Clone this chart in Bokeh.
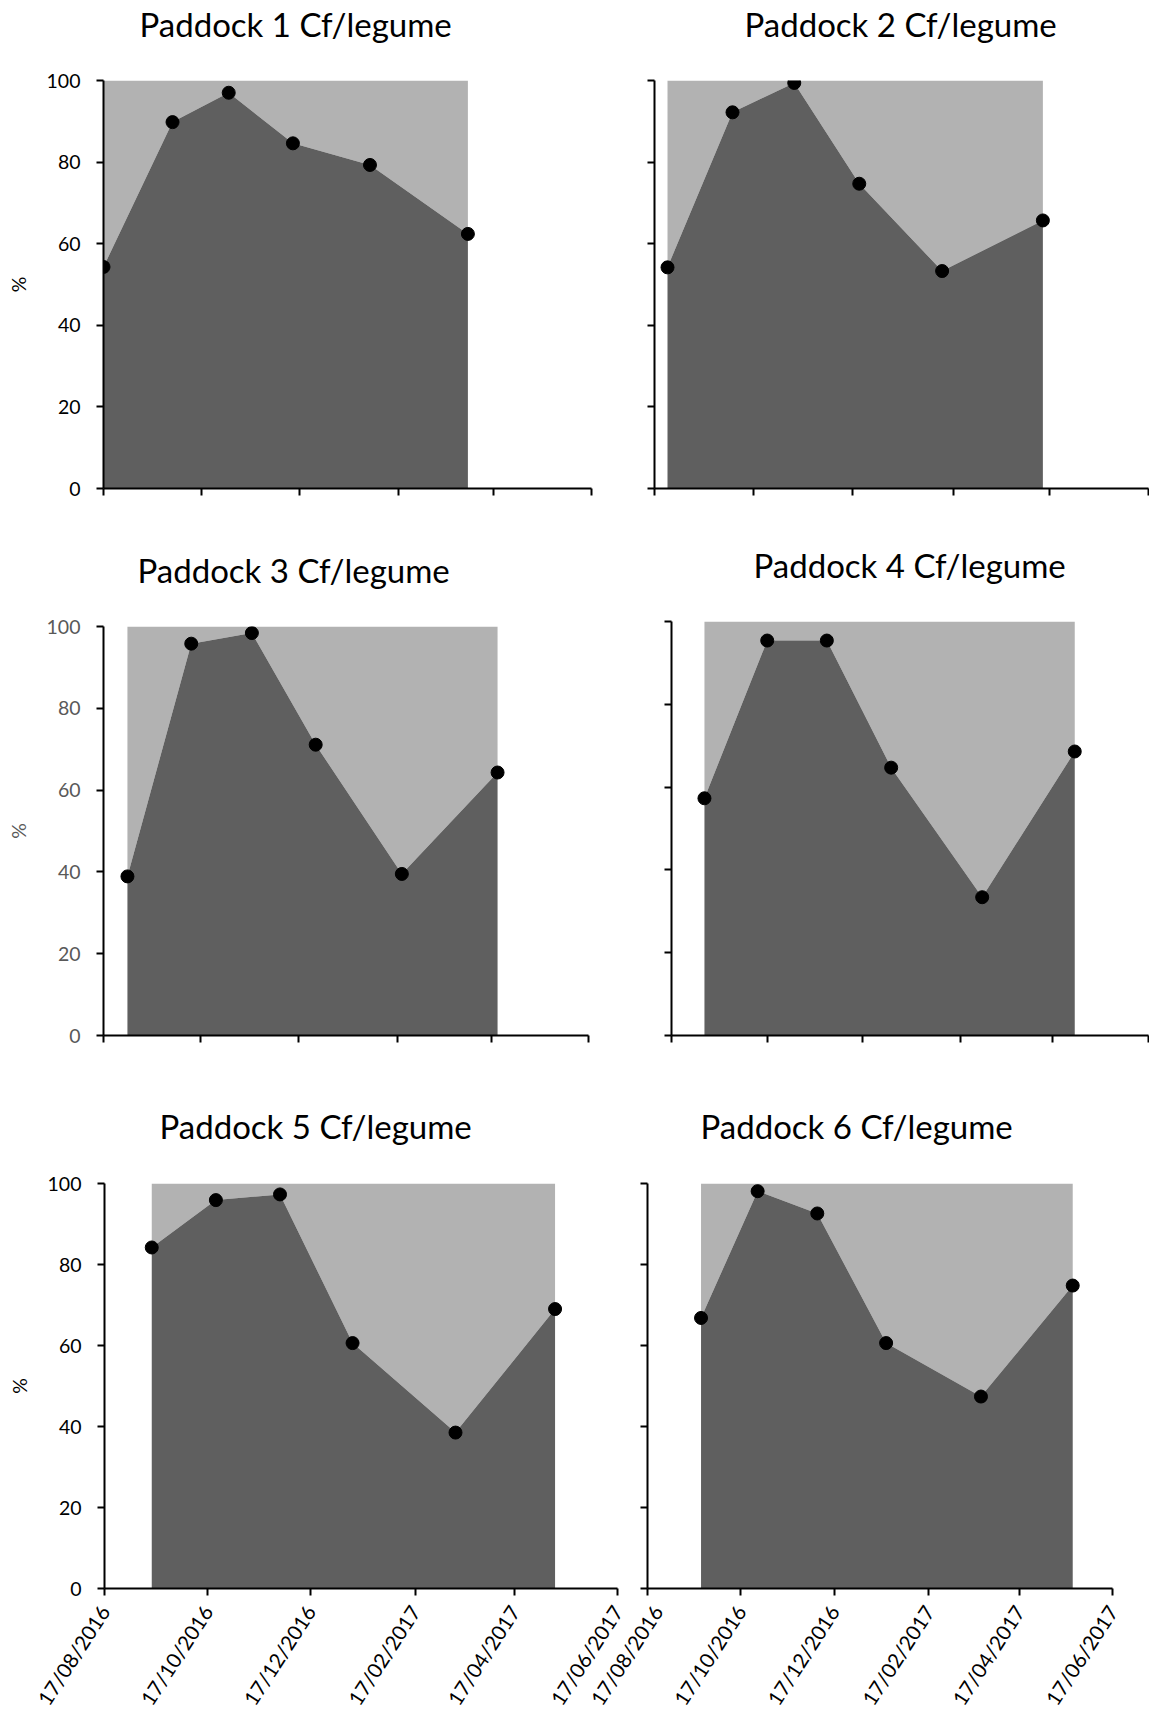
import math
import pandas as pd
from bokeh.plotting import figure
from bokeh.layouts import row, column
from bokeh.models import (Range1d, FixedTicker, DatetimeTickFormatter,
                          CustomJSTickFormatter, Title)
from bokeh.embed import file_html
from bokeh.resources import INLINE

FONT = "Lato"
TICK_SIZE = "19.5px"
XTICK_SIZE = "20.5px"
TITLE_SIZE = "33px"
LIGHT = "#B2B2B2"
DARK = "#5F5F5F"
TOP_ROOM = 150  # border reserved above each frame for its title

# shared axes: date ticks every two months, percentage ticks
x_tick_labels = ["17/08/2016", "17/10/2016", "17/12/2016",
                 "17/02/2017", "17/04/2017", "17/06/2017"]
y_ticks = [0, 20, 40, 60, 80, 100]
y_axis_title = "%"

titles = ["Paddock 1 Cf/legume", "Paddock 2 Cf/legume", "Paddock 3 Cf/legume",
          "Paddock 4 Cf/legume", "Paddock 5 Cf/legume", "Paddock 6 Cf/legume"]

# sampling dates and legume share (%) per paddock
p1_dates = ["17/08/2016", "29/09/2016", "03/11/2016", "13/12/2016", "30/01/2017", "01/04/2017"]
p1_values = [54.3, 89.8, 97.0, 84.6, 79.3, 62.4]
p2_dates = ["25/08/2016", "04/10/2016", "11/11/2016", "21/12/2016", "10/02/2017", "13/04/2017"]
p2_values = [54.2, 92.2, 99.4, 74.7, 53.3, 65.7]
p3_dates = ["01/09/2016", "11/10/2016", "18/11/2016", "28/12/2016", "20/02/2017", "21/04/2017"]
p3_values = [38.9, 95.8, 98.4, 71.1, 39.5, 64.3]
p4_dates = ["07/09/2016", "17/10/2016", "24/11/2016", "04/01/2017", "03/03/2017", "01/05/2017"]
p4_values = [57.3, 95.4, 95.4, 64.7, 33.4, 68.6]
p5_dates = ["14/09/2016", "22/10/2016", "29/11/2016", "11/01/2017", "13/03/2017", "11/05/2017"]
p5_values = [84.2, 95.9, 97.3, 60.6, 38.5, 69.0]
p6_dates = ["21/09/2016", "28/10/2016", "06/12/2016", "20/01/2017", "23/03/2017", "22/05/2017"]
p6_values = [66.8, 98.1, 92.6, 60.6, 47.4, 74.8]


def parse_dates(labels):
    return pd.to_datetime(labels, format="%d/%m/%Y")


tick_dt = parse_dates(x_tick_labels)
tick_ms = [int(t.value // 10**6) for t in tick_dt]


def make_panel(title, dates, values, frame_w, frame_h, border, title_offset,
               title_standoff, y_labels, x_labels, label_color="black", shift_left=0):
    b_left, b_right, b_top, b_bottom = border
    x = parse_dates(dates).to_numpy()
    head = Title(text=title, align="left", offset=title_offset, standoff=title_standoff,
                 vertical_align="bottom", text_font=FONT, text_font_size=TITLE_SIZE,
                 text_font_style="normal", text_color="black")
    p = figure(width=b_left + frame_w + b_right, height=TOP_ROOM + frame_h + b_bottom,
               x_axis_type="datetime",
               x_range=Range1d(tick_dt[0].to_pydatetime(), tick_dt[-1].to_pydatetime()),
               y_range=Range1d(0, 100),
               min_border_left=b_left, min_border_right=b_right,
               min_border_top=TOP_ROOM, min_border_bottom=b_bottom,
               title=head, toolbar_location=None, output_backend="svg",
               margin=(b_top - TOP_ROOM, 0, 0, -shift_left))
    p.background_fill_color = "white"
    p.border_fill_color = None
    p.outline_line_color = None
    p.xgrid.visible = False
    p.ygrid.visible = False

    # remaining share up to 100 %, legume share, sample points
    p.varea(x=x, y1=values, y2=100, fill_color=LIGHT)
    p.varea(x=x, y1=0, y2=values, fill_color=DARK)
    p.scatter(x=x, y=values, size=13, fill_color="black", line_color="black")

    xa, ya = p.xaxis[0], p.yaxis[0]
    xa.ticker = FixedTicker(ticks=tick_ms)
    ya.ticker = FixedTicker(ticks=y_ticks)
    for ax in (xa, ya):
        ax.axis_line_color = "black"
        ax.axis_line_width = 2
        ax.major_tick_line_color = "black"
        ax.major_tick_line_width = 2
        ax.major_tick_in = 0
        ax.major_tick_out = 7
        ax.minor_tick_line_color = None
        ax.major_label_text_font = FONT
        ax.major_label_text_font_size = TICK_SIZE
        ax.major_label_text_color = label_color

    if x_labels:
        fmt = "%d/%m/%Y"
        xa.formatter = DatetimeTickFormatter(days=fmt, months=fmt, years=fmt)
        xa.major_label_orientation = math.radians(57)
        xa.major_label_text_font_size = XTICK_SIZE
        xa.major_label_standoff = 12
    else:
        xa.formatter = CustomJSTickFormatter(code="return ''")

    if y_labels:
        ya.major_label_standoff = 16
        ya.axis_label = y_axis_title
        ya.axis_label_text_font = FONT
        ya.axis_label_text_font_size = TICK_SIZE
        ya.axis_label_text_font_style = "normal"
        ya.axis_label_text_color = label_color
        ya.axis_label_standoff = 14
    else:
        ya.formatter = CustomJSTickFormatter(code="return ''")
    return p


f1 = make_panel(titles[0], p1_dates, p1_values, 488, 408, (103, 31, 80, 52),
                36, 73, True, False)
f2 = make_panel(titles[1], p2_dates, p2_values, 494, 416, (32, 1, 80, 44),
                90, 74, False, False)
f3 = make_panel(titles[2], p3_dates, p3_values, 485, 409, (103, 34, 86, 65),
                34, 74, True, False, label_color="#595959")
f4 = make_panel(titles[3], p4_dates, p4_values, 477, 414, (49, 1, 81, 65),
                82, 74, False, False)
f5 = make_panel(titles[4], p5_dates, p5_values, 513, 405, (104, 12, 83, 134),
                55, 76, True, True)
f6 = make_panel(titles[5], p6_dates, p6_values, 465, 411, (62, 37, 83, 128),
                53, 76, False, True, shift_left=44)

layout = column(row(f1, f2), row(f3, f4), row(f5, f6))

with open("out.html", "w") as fh:
    fh.write(file_html(layout, INLINE, title="Paddock legume share"))
